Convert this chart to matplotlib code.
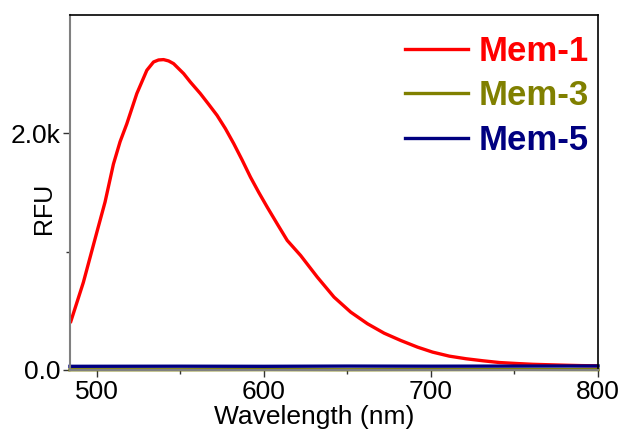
import numpy as np
import matplotlib.pyplot as plt
from matplotlib.ticker import FixedLocator, FuncFormatter

plt.rcParams['font.family'] = ['Liberation Sans', 'DejaVu Sans']

# --- datos ---
wl_mem1 = [484.5, 492, 500, 505, 510, 514, 518, 524, 530, 534, 537, 540,
           543, 546, 552, 556, 562, 567, 572, 577, 582, 587, 592, 597, 602,
           608, 614, 622, 632, 642, 652, 662, 672, 682, 692, 701, 711, 721,
           731, 741, 751, 761, 771, 781, 790, 800]
rfu_mem1 = [410, 740, 1160, 1420, 1740, 1930, 2080, 2336, 2533, 2603, 2620,
            2623, 2612, 2589, 2505, 2434, 2336, 2245, 2152, 2040, 1913, 1775,
            1630, 1500, 1377, 1235, 1095, 968, 785, 616, 489, 391, 311, 249,
            193, 151, 117, 95, 78, 63, 55, 48, 44, 40, 37, 35]

wl_flat = [484, 550, 600, 650, 700, 750, 800]
rfu_mem3 = [2, 2, 3, 2, 3, 4, 3]
rfu_mem5 = [31, 32, 31, 33, 32, 33, 34]

etiquetas = ["Mem-1", "Mem-3", "Mem-5"]
colores = ["#FF0000", "#808000", "#000080"]

fig = plt.figure(figsize=(6.22, 4.36), dpi=100)
ax = fig.add_axes([0.1125, 0.1514, 0.849, 0.8142])

ax.plot(wl_mem1, rfu_mem1, color=colores[0], lw=2.4, label=etiquetas[0],
        solid_joinstyle='round')
ax.plot(wl_flat, rfu_mem3, color=colores[1], lw=2.4, label=etiquetas[1],
        clip_on=False)
ax.plot(wl_flat, rfu_mem5, color=colores[2], lw=2.4, label=etiquetas[2],
        clip_on=False)

ax.set_xlim(484, 800)
ax.set_ylim(0, 3000)

ax.xaxis.set_major_locator(FixedLocator([500, 600, 700, 800]))
ax.xaxis.set_minor_locator(FixedLocator([550, 650, 750]))
ax.yaxis.set_major_locator(FixedLocator([0, 2000]))
ax.yaxis.set_minor_locator(FixedLocator([1000]))
ax.yaxis.set_major_formatter(
    FuncFormatter(lambda v, p: "0.0" if v == 0 else f"{v/1000:.1f}k"))

ax.tick_params(axis='both', which='major', labelsize=19, length=5,
               width=1, direction='out', color='#333333', pad=2)
ax.tick_params(axis='both', which='minor', length=3, width=1,
               direction='out', color='#333333')

for lado in ['left', 'bottom']:
    ax.spines[lado].set_color('#808080')
    ax.spines[lado].set_linewidth(1.5)
for lado in ['top', 'right']:
    ax.spines[lado].set_color('black')
    ax.spines[lado].set_linewidth(1.2)

ax.set_xlabel("Wavelength (nm)", fontsize=19)
ax.xaxis.set_label_coords(0.462, -0.1)
ax.set_ylabel("RFU", fontsize=18)
ax.yaxis.set_label_coords(-0.026, 0.456)

leg = ax.legend(loc='upper right', frameon=False, labelcolor='linecolor',
                prop={'weight': 'bold', 'size': 25}, handlelength=1.8,
                handletextpad=0.3, labelspacing=0.33,
                borderaxespad=0.0, bbox_to_anchor=(1.008, 0.983))

fig.savefig("out.png", dpi=100)
